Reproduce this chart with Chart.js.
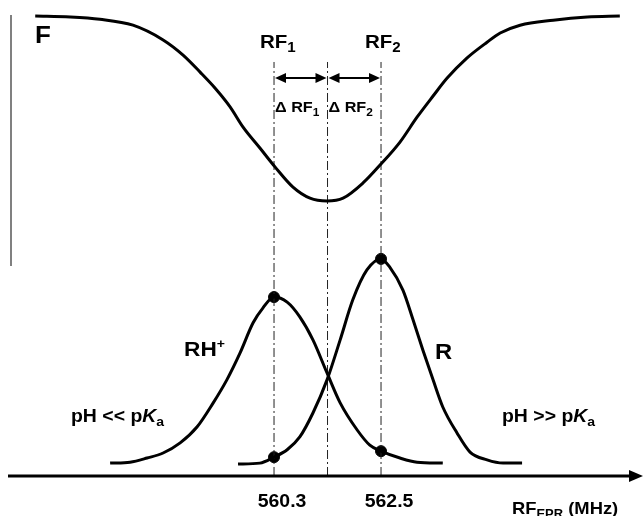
<!DOCTYPE html>
<html>
<head>
<meta charset="utf-8">
<script src="https://cdn.jsdelivr.net/npm/chart.js@4"></script>
<style>
  body { margin: 0; background: #fff; }
  canvas { display: block; }
</style>
</head>
<body>
<canvas id="chart" width="644" height="516"></canvas>
<script>
// F (fluorescence / signal) curve
const fX = [555.39, 556.11, 556.72, 557.40, 558.02, 558.43, 558.78, 559.09, 559.40, 559.66, 560.01, 560.32, 560.69, 561.04, 561.39,
            561.72, 562.13, 562.48, 562.89, 563.24, 563.57, 563.86, 564.27, 564.68, 564.95, 565.36, 566.04, 566.74, 567.41];
const fY = [100.0, 99.8, 99.3, 98.0, 94.8, 91.5, 87.8, 84.3, 80.2, 75.9, 71.3, 67.2, 62.8, 60.4, 59.8,
            60.4, 63.7, 67.6, 72.6, 78.0, 82.6, 86.5, 90.9, 94.3, 96.3, 98.0, 99.1, 99.8, 100.0];

// RH+ spectrum
const rhX = [556.93, 557.34, 557.69, 558.02, 558.37, 558.72, 559.05, 559.33, 559.60, 559.87, 560.07, 560.30,
             560.57, 560.83, 561.10, 561.39, 561.66, 562.01, 562.27, 562.50, 562.89, 563.24, 563.77];
const rhY = [2.8, 3.0, 3.9, 5.0, 7.2, 10.7, 15.9, 20.9, 26.7, 33.3, 36.5, 38.9,
             37.8, 34.6, 29.6, 22.4, 15.9, 10.0, 6.7, 5.4, 3.9, 3.0, 2.8];

// R spectrum
const rX = [559.56, 560.01, 560.30, 560.57, 560.83, 561.10, 561.39, 561.66, 561.92, 562.21, 562.50,
            562.68, 562.95, 563.16, 563.36, 563.57, 563.77, 564.06, 564.33, 564.68, 565.01, 565.40];
const rY = [2.6, 2.8, 4.1, 5.7, 8.5, 13.7, 20.9, 29.6, 38.3, 44.8, 47.2,
            45.4, 40.4, 33.9, 27.4, 20.9, 15.0, 9.4, 5.2, 3.5, 2.8, 2.8];

// dots on the curves
const markerX = [560.3, 562.5, 560.3, 562.5];
const markerY = [38.9, 47.2, 4.1, 5.4];

// dash-dot guides: RF1, crossing, RF2
const guideX = [560.3, 561.4, 562.5];
const guideTop = 90;
const arrowY = 86.5;

const tickValues = [560.3, 562.5];
const tickLabels = ['560.3', '562.5'];

const toPts = (xs, ys) => xs.map((x, i) => ({ x: x, y: ys[i] }));

const FONT = '"Liberation Sans", Arial, sans-serif';

const curve = (xs, ys) => ({
  data: toPts(xs, ys),
  showLine: true,
  borderColor: '#000',
  borderWidth: 3,
  pointRadius: 0,
  cubicInterpolationMode: 'monotone',
  fill: false
});

const datasets = [curve(fX, fY), curve(rhX, rhY), curve(rX, rY)];

guideX.forEach(gx => {
  datasets.push({
    data: [{ x: gx, y: 0 }, { x: gx, y: guideTop }],
    showLine: true,
    borderColor: '#222',
    borderWidth: 1,
    borderDash: [9, 3, 2, 3],
    pointRadius: 0
  });
});

datasets.push({
  data: toPts(markerX, markerY),
  showLine: false,
  pointRadius: 5.5,
  pointBackgroundColor: '#000',
  pointBorderColor: '#000'
});

// draws text with sub/superscript parts, slightly stretched like the original
const drawRich = (ctx, parts, x, y) => {
  ctx.save();
  ctx.translate(x, y);
  ctx.scale(1.08, 1);
  let cx = 0;
  parts.forEach(p => {
    ctx.font = (p.italic ? 'italic ' : '') + 'bold ' + p.size + 'px ' + FONT;
    ctx.fillText(p.t, cx, p.dy || 0);
    cx += ctx.measureText(p.t).width;
  });
  ctx.restore();
  return cx * 1.08;
};

const arrowHead = (ctx, x, y, dir) => {
  ctx.beginPath();
  ctx.moveTo(x, y);
  ctx.lineTo(x - dir * 11, y - 5);
  ctx.lineTo(x - dir * 11, y + 5);
  ctx.closePath();
  ctx.fill();
};

const decor = {
  id: 'decor',
  afterDatasetsDraw(chart) {
    const ctx = chart.ctx;
    const xs = chart.scales.x, ys = chart.scales.y;
    ctx.save();
    ctx.fillStyle = '#000';

    // grey vertical bar at the left
    ctx.strokeStyle = '#808080';
    ctx.lineWidth = 2;
    ctx.beginPath();
    ctx.moveTo(11, 15);
    ctx.lineTo(11, 266);
    ctx.stroke();

    // x axis with arrow
    const y0 = ys.getPixelForValue(0);
    ctx.strokeStyle = '#000';
    ctx.lineWidth = 3;
    ctx.beginPath();
    ctx.moveTo(8, y0);
    ctx.lineTo(632, y0);
    ctx.stroke();
    ctx.beginPath();
    ctx.moveTo(643, y0);
    ctx.lineTo(629, y0 - 6);
    ctx.lineTo(629, y0 + 6);
    ctx.closePath();
    ctx.fill();

    // double arrows between the guides
    const ay = ys.getPixelForValue(arrowY);
    ctx.lineWidth = 2;
    for (let i = 0; i < guideX.length - 1; i++) {
      const a = xs.getPixelForValue(guideX[i]) + 1;
      const b = xs.getPixelForValue(guideX[i + 1]) - 1;
      ctx.beginPath();
      ctx.moveTo(a + 6, ay);
      ctx.lineTo(b - 6, ay);
      ctx.stroke();
      arrowHead(ctx, a, ay, -1);
      arrowHead(ctx, b, ay, 1);
    }

    ctx.textBaseline = 'alphabetic';
    drawRich(ctx, [{ t: 'F', size: 24 }], 35, 43);

    const p1 = xs.getPixelForValue(guideX[0]);
    const p2 = xs.getPixelForValue(guideX[2]);
    const pm = xs.getPixelForValue(guideX[1]);
    drawRich(ctx, [{ t: 'RF', size: 19 }, { t: '1', size: 14, dy: 4 }], p1 - 14, 48);
    drawRich(ctx, [{ t: 'RF', size: 19 }, { t: '2', size: 14, dy: 4 }], p2 - 16, 48);
    drawRich(ctx, [{ t: 'Δ RF', size: 15 }, { t: '1', size: 11, dy: 4 }], p1 + 1, 112);
    drawRich(ctx, [{ t: 'Δ RF', size: 15 }, { t: '2', size: 11, dy: 4 }], pm + 1, 112);

    drawRich(ctx, [{ t: 'RH', size: 21 }, { t: '+', size: 13, dy: -8 }], 184, 356);
    drawRich(ctx, [{ t: 'R', size: 22 }], 435, 359);

    drawRich(ctx, [{ t: 'pH << p', size: 18 }, { t: 'K', size: 18, italic: true }, { t: 'a', size: 13, dy: 4 }], 71, 422);
    drawRich(ctx, [{ t: 'pH >> p', size: 18 }, { t: 'K', size: 18, italic: true }, { t: 'a', size: 13, dy: 4 }], 502, 422);

    tickValues.forEach((v, i) => {
      ctx.font = 'bold 18px ' + FONT;
      const w = ctx.measureText(tickLabels[i]).width * 1.08;
      drawRich(ctx, [{ t: tickLabels[i], size: 18 }], xs.getPixelForValue(v) + 8 - w / 2, 507);
    });

    drawRich(ctx, [{ t: 'RF', size: 17 }, { t: 'EPR', size: 12, dy: 4 }, { t: ' (MHz)', size: 17 }], 512, 514);
    ctx.restore();
  }
};

new Chart(document.getElementById('chart'), {
  type: 'scatter',
  data: { datasets: datasets },
  options: {
    responsive: false,
    animation: false,
    layout: { padding: 0, autoPadding: false },
    plugins: { legend: { display: false }, tooltip: { enabled: false } },
    scales: {
      x: { type: 'linear', min: 554.666, max: 567.907, display: false },
      y: { type: 'linear', min: -8.696, max: 103.478, display: false }
    }
  },
  plugins: [decor]
});
</script>
</body>
</html>
